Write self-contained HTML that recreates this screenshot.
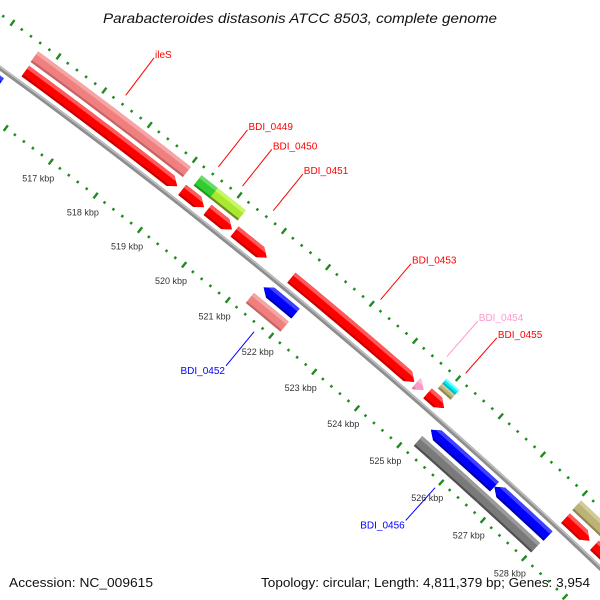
<!DOCTYPE html>
<html><head><meta charset="utf-8"><title>Parabacteroides distasonis genome map</title>
<style>
html,body{margin:0;padding:0;background:#fff;width:600px;height:600px;overflow:hidden;}
svg{display:block;font-family:"Liberation Sans",sans-serif;}
</style></head>
<body>
<svg id="map" width="600" height="600" viewBox="0 0 600 600" xmlns="http://www.w3.org/2000/svg">
<rect width="600" height="600" fill="#fff"/>
<g id="ticks"></g>
<g id="backbone"></g>
<g id="features"></g>
<g id="labels"></g>
<text x="300" y="23" text-anchor="middle" font-style="italic" font-size="14" fill="#111" textLength="394" lengthAdjust="spacingAndGlyphs">Parabacteroides distasonis ATCC 8503, complete genome</text>
<text x="9" y="587" font-size="13" fill="#111" textLength="144" lengthAdjust="spacingAndGlyphs">Accession: NC_009615</text>
<text x="590" y="587" text-anchor="end" font-size="13" fill="#111" textLength="329" lengthAdjust="spacingAndGlyphs">Topology: circular; Length: 4,811,379 bp; Genes: 3,954</text>
</svg>
<script>
// ---- data ----
const tickStartKbp = 510;
const tickEndKbp = 531;
const tickLabelKbp = [517,518,519,520,521,522,523,524,525,526,527,528];
const featStart = [515.68,515.66,519.15,519.26,519.62,519.72,520.33,521.62,524.50,524.77,524.85,524.85,521.35,521.28,525.24,526.75,525.20,526.70,528.04,528.05,528.75,513.00];
const featEnd   = [519.04,519.02,519.64,519.62,520.25,520.27,521.06,524.46,524.68,525.16,525.15,525.15,522.08,522.08,526.75,528.04,526.70,528.02,531.00,528.63,529.60,515.45];
const featSlot  = ['f1','f2','f1','f2','f2','f1','f1','f1','f1','f1','f2o','f2i','r1','r2','r1','r1','r2','r2','f2','f1','f1','r1'];
const featColor = ['red','salmon','red','green','ygreen','red','red','red','pink','red','cyan','khaki','blue','salmon','blue','blue','gray','gray','khaki','red','red','blue'];
const labelText = ['ileS','BDI_0449','BDI_0450','BDI_0451','BDI_0452','BDI_0453','BDI_0454','BDI_0455','BDI_0456'];
const labelKbp  = [517.35,519.40,519.94,520.63,521.72,523.07,524.60,525.04,525.98];
const labelStrand = ['f','f','f','f','r','f','f','f','r'];
const labelColor = ['red','red','red','red','blue','red','pink','red','blue'];

// ---- geometry ----
const CX=-3441, CY=4809, R0=5858, TH0=-53.08, DEG_PER_KBP=0.5536;
function pt(kbp, off){
  const th=(TH0+(kbp-517)*DEG_PER_KBP)*Math.PI/180;
  const r=R0+off;
  return [CX+r*Math.cos(th), CY+r*Math.sin(th)];
}
const NS='http://www.w3.org/2000/svg';
function mk(tag, parent){const e=document.createElementNS(NS,tag);parent.appendChild(e);return e;}
const slotR={f1:[6,19],f2:[23,36],f2o:[29.5,36],f2i:[23,29.5],r1:[-19,-6],r2:[-36,-23]};
const pal={
 red:['#c80000','#ff0000','#ff5a5a'], salmon:['#c46464','#f08080','#f6a4a4'],
 green:['#229922','#33cc33','#66dd66'], ygreen:['#6e8a22','#a8e830','#c8f860'],
 cyan:['#00b8c8','#00f0ff','#80ffff'], khaki:['#8e8850','#bdb378','#d4cc98'],
 blue:['#0000a8','#0000ff','#4040ff'], gray:['#505050','#7a7a7a','#9a9a9a'],
 pink:['#e070a8','#ff99cc','#ffc0e0']
};
const txtCol={red:'#ff0000',blue:'#0000ff',pink:'#ff99cc'};

// ---- backbone ----
const bb=document.getElementById('backbone');
function arcPath(k1,k2,off){let d='';for(let i=0;i<=60;i++){const k=k1+(k2-k1)*i/60;const p=pt(k,off);d+=(i?'L':'M')+p[0].toFixed(2)+' '+p[1].toFixed(2);}return d;}
const bl=mk('path',bb);bl.setAttribute('d',arcPath(510,531,0));bl.setAttribute('stroke','#8e8e8e');bl.setAttribute('stroke-width','4.5');bl.setAttribute('fill','none');


const bl2=mk('path',bb);bl2.setAttribute('d',arcPath(510,531,1.2));bl2.setAttribute('stroke','#c0c0c0');bl2.setAttribute('stroke-width','1.5');bl2.setAttribute('fill','none');



// ---- ticks ----
const tg=document.getElementById('ticks');
[-45,44].forEach(function(ring){
  for(let b=tickStartKbp*5;b<=tickEndKbp*5;b++){
    const k=b/5; const major=(b%5===0);
    const h=major?3.5:1.3;
    const a=pt(k,ring-h), c=pt(k,ring+h);
    const l=mk('line',tg);
    l.setAttribute('x1',a[0]);l.setAttribute('y1',a[1]);l.setAttribute('x2',c[0]);l.setAttribute('y2',c[1]);
    l.setAttribute('stroke','#1e8c1e');l.setAttribute('stroke-width','2.4');
    
    
  }
});
tickLabelKbp.forEach(function(k){
  const p=pt(k,-66);
  const t=mk('text',tg);
  t.setAttribute('x',p[0]);t.setAttribute('y',p[1]+3);t.setAttribute('text-anchor','middle');
  t.setAttribute('font-size','9');t.setAttribute('fill','#333');
  t.textContent=k+' kbp';
  
  
});

// ---- features ----
const fg=document.getElementById('features');
const defs=mk('defs',document.getElementById('map'));
const HEAD=0.15;
function shapePts(s,e,r1,r2,dir){
  const pts=[];const n=12;const mid=(r1+r2)/2;
  if(dir==='f'){
    const be=Math.max(s,e-HEAD);
    for(let i=0;i<=n;i++)pts.push(pt(s+(be-s)*i/n,r2));
    pts.push(pt(e,mid));
    for(let i=n;i>=0;i--)pts.push(pt(s+(be-s)*i/n,r1));
  }else if(dir==='r'){
    const bs=Math.min(e,s+HEAD);
    pts.push(pt(s,mid));
    for(let i=0;i<=n;i++)pts.push(pt(bs+(e-bs)*i/n,r2));
    for(let i=n;i>=0;i--)pts.push(pt(bs+(e-bs)*i/n,r1));
  }else{
    for(let i=0;i<=n;i++)pts.push(pt(s+(e-s)*i/n,r2));
    for(let i=n;i>=0;i--)pts.push(pt(s+(e-s)*i/n,r1));
  }
  return pts.map(p=>p[0].toFixed(2)+','+p[1].toFixed(2)).join(' ');
}
featStart.forEach(function(s,i){
  const e=featEnd[i], slot=featSlot[i], r=slotR[slot], col=pal[featColor[i]];
  let dir='n';
  if(slot==='f1')dir='f'; else if(slot==='r1')dir='r';
  const cp=mk('clipPath',defs);cp.setAttribute('id','fc'+i);
  const cpp=mk('polygon',cp);cpp.setAttribute('points',shapePts(s,e,r[0],r[1],dir));
  const g=mk('g',fg);g.setAttribute('clip-path','url(#fc'+i+')');
  
  
  const h=r[1]-r[0];
  const bands=[[r[0]-1,r[1]+1,col[0]],[r[0]+2.2,r[1]+1,col[1]],[r[1]-h*0.28,r[1]+1,col[2]]];
  bands.forEach(function(bd){
    const p=mk('polygon',g);p.setAttribute('points',shapePts(s-0.05,e+0.05,bd[0],bd[1],'n'));p.setAttribute('fill',bd[2]);
  });
});

// ---- labels ----
const lg=document.getElementById('labels');
labelText.forEach(function(txt,i){
  const k=labelKbp[i], fwd=labelStrand[i]==='f';
  const a=pt(k,fwd?53:-53), b=pt(k,fwd?100:-97);
  const col=txtCol[labelColor[i]];
  const l=mk('line',lg);
  l.setAttribute('x1',a[0]);l.setAttribute('y1',a[1]);l.setAttribute('x2',b[0]);l.setAttribute('y2',b[1]);
  l.setAttribute('stroke',col);l.setAttribute('stroke-width','1');
  
  
  const t=mk('text',lg);
  t.setAttribute('font-size','10');t.setAttribute('fill',col);
  if(fwd){t.setAttribute('x',b[0]+1);t.setAttribute('y',b[1]+0);}
  else{t.setAttribute('x',b[0]-1);t.setAttribute('y',b[1]+8);t.setAttribute('text-anchor','end');}
  t.textContent=txt;
  
  
});
</script>
</body></html>
